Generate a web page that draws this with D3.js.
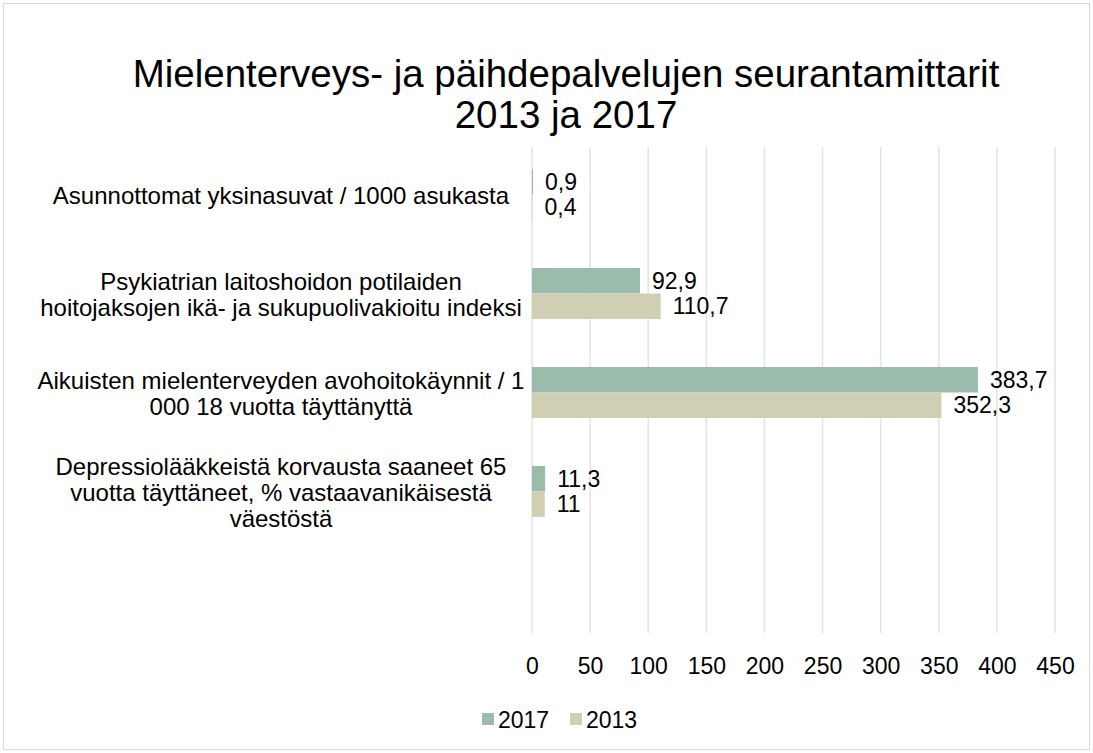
<!DOCTYPE html>
<html>
<head>
<meta charset="utf-8">
<script src="https://cdn.jsdelivr.net/npm/d3@7"></script>
<style>
  body { margin: 0; background: #fff; }
  text { font-family: "Liberation Sans", Arial, sans-serif; fill: #000; }
</style>
</head>
<body>
<div id="chart"></div>
<script>
// chart data
var categories = [
  "Asunnottomat yksinasuvat / 1000 asukasta",
  "Psykiatrian laitoshoidon potilaiden\nhoitojaksojen ikä- ja sukupuolivakioitu indeksi",
  "Aikuisten mielenterveyden avohoitokäynnit / 1\n000 18 vuotta täyttänyttä",
  "Depressiolääkkeistä korvausta saaneet 65\nvuotta täyttäneet, % vastaavanikäisestä\nväestöstä",
  ""
];
var series = ["2017", "2013"];
var values2017 = [0.9, 92.9, 383.7, 11.3, null];
var values2013 = [0.4, 110.7, 352.3, 11, null];
var xTicks = [0, 50, 100, 150, 200, 250, 300, 350, 400, 450];
var titleLines = ["Mielenterveys- ja päihdepalvelujen seurantamittarit", "2013 ja 2017"];

function init() {
  var width = 1093;
  var height = 753;
  var colors = d3.scaleOrdinal().domain(series).range(["#9bbbad", "#cfcfb4"]);

  var svg = d3.select("#chart").append("svg")
    .attr("width", width)
    .attr("height", height);

  svg.append("rect")
    .attr("x", 3.5).attr("y", 3.5)
    .attr("width", width - 7).attr("height", height - 7)
    .attr("fill", "#fff").attr("stroke", "#d9d9d9");

  // title
  svg.append("text")
    .attr("text-anchor", "middle")
    .style("font-size", "38.5px")
    .selectAll("tspan").data(titleLines).enter()
    .append("tspan")
    .attr("x", 566)
    .attr("y", function(d, i) { return 87 + i * 41; })
    .text(function(d) { return d; });

  var xScale = d3.scaleLinear().domain([0, 450]).range([532, 1055]);
  var yScale = d3.scaleBand().domain(categories.map(function(d, i) { return i; }))
    .range([145, 640]);
  var ySub = d3.scaleBand().domain(series).range([0, yScale.bandwidth()]).paddingOuter(0.94);

  // gridlines
  svg.append("g").selectAll("line").data(xTicks).enter()
    .append("line")
    .attr("x1", function(d) { return xScale(d); })
    .attr("x2", function(d) { return xScale(d); })
    .attr("y1", 147).attr("y2", 633)
    .attr("stroke", "#e3e3e3").attr("stroke-width", 1.5);

  var xAxis = d3.axisBottom(xScale).tickValues(xTicks).tickSize(0).tickPadding(0);
  var ax = svg.append("g").attr("transform", "translate(0,657)").call(xAxis);
  ax.select(".domain").remove();
  ax.selectAll("text").style("font-size", "23px").attr("dy", "0.72em").attr("fill", "#000");

  var rows = categories.map(function(c, i) {
    return { idx: i, values: [
      { key: "2017", value: values2017[i] },
      { key: "2013", value: values2013[i] }
    ] };
  });

  var group = svg.selectAll(".group").data(rows).enter()
    .append("g")
    .attr("class", "group")
    .attr("transform", function(d) { return "translate(0," + yScale(d.idx) + ")"; });

  var cell = group.selectAll("g").data(function(d) {
    return d.values.filter(function(v) { return v.value !== null; });
  }).enter().append("g");

  cell.append("rect")
    .attr("x", xScale(0))
    .attr("y", function(d) { return ySub(d.key); })
    .attr("width", function(d) { return xScale(d.value) - xScale(0); })
    .attr("height", ySub.bandwidth())
    .attr("fill", function(d) { return colors(d.key); });

  cell.append("text")
    .attr("x", function(d) { return xScale(d.value) + 12; })
    .attr("y", function(d) { return ySub(d.key) + ySub.bandwidth() / 2; })
    .attr("dy", "0.35em")
    .style("font-size", "23px")
    .text(function(d) { return String(d.value).replace(".", ","); });

  // category labels
  group.append("text")
    .attr("text-anchor", "middle")
    .style("font-size", "24px")
    .each(function(d) {
      var lines = categories[d.idx].split("\n");
      var mid = yScale.bandwidth() / 2;
      d3.select(this).selectAll("tspan").data(lines).enter()
        .append("tspan")
        .attr("x", 281)
        .attr("y", function(l, i) { return mid + 9 + (i - (lines.length - 1) / 2) * 26; })
        .text(function(l) { return l; });
    });

  // legend
  var legend = svg.append("g").selectAll("g").data(series).enter()
    .append("g")
    .attr("transform", function(d, i) { return "translate(" + (482 + i * 88) + ",713)"; });
  legend.append("rect").attr("width", 12).attr("height", 12)
    .attr("fill", function(d) { return colors(d); });
  legend.append("text").attr("x", 16).attr("y", 15)
    .style("font-size", "23px")
    .text(function(d) { return d; });
}

window.onload = init;
</script>
</body>
</html>
